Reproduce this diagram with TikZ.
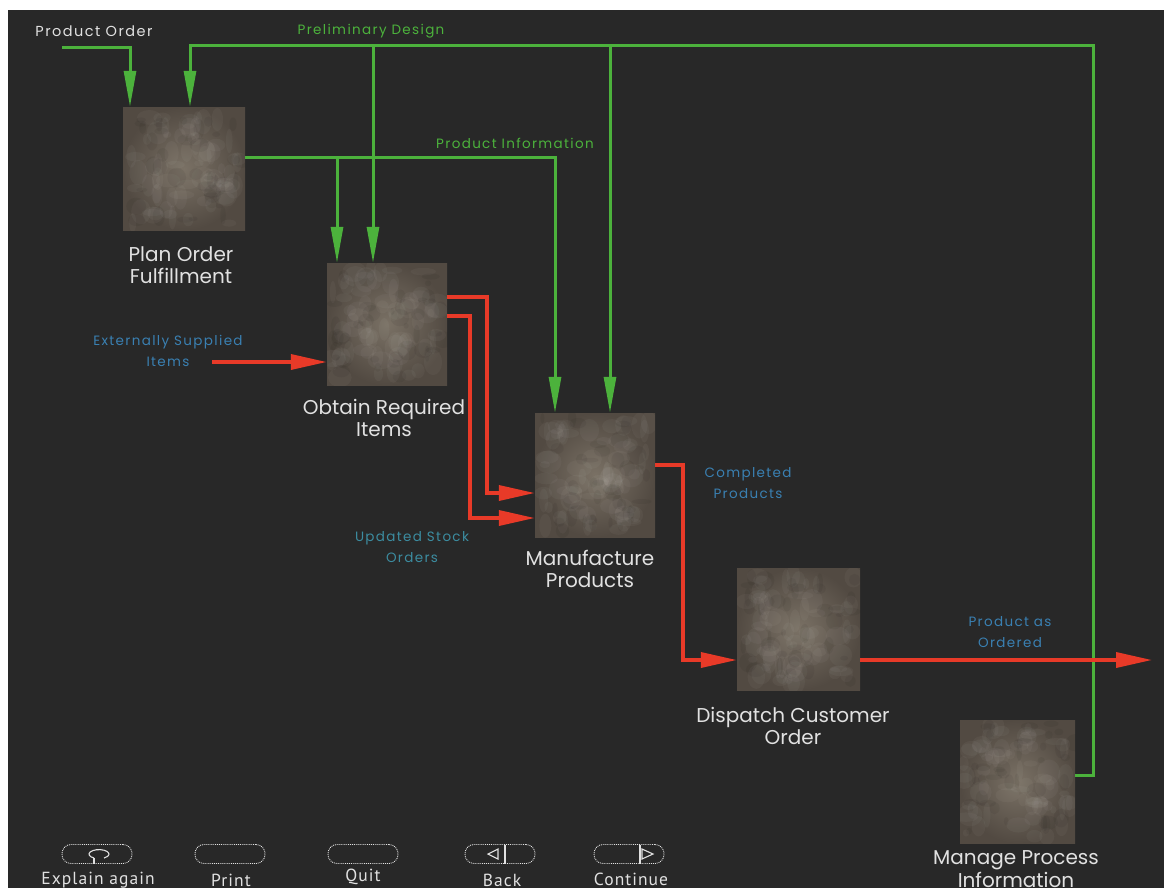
\documentclass[tikz,border=0pt]{standalone}
\usepackage{fontspec}
\setmainfont{Poppins}
\newfontfamily\spacedfont[LetterSpace=10]{Poppins}
\newfontfamily\btnfont[LetterSpace=6]{PT Sans}
\usetikzlibrary{arrows.meta,calc}
\definecolor{bgdark}{RGB}{40,40,40}
\definecolor{flowgreen}{RGB}{76,178,60}
\definecolor{flowred}{RGB}{232,58,40}
\definecolor{lblblue}{RGB}{58,128,178}
\definecolor{lblteal}{RGB}{60,140,160}
\definecolor{boxlight}{RGB}{122,113,101}
\definecolor{boxdark}{RGB}{82,74,66}
\definecolor{txtwhite}{RGB}{225,225,225}
\pgfmathsetseed{7}
\tikzset{
  procbox/.style={rectangle, inner sep=0pt, inner color=boxlight, outer color=boxdark,
    path picture={\foreach \i in {1,...,70}{
      \fill[white, opacity=0.035] ($(path picture bounding box.center)+(rand*55,rand*55)$) ellipse[x radius=3+rnd*10, y radius=3+rnd*10];}
      \foreach \i in {1,...,40}{
      \fill[black, opacity=0.05] ($(path picture bounding box.center)+(rand*58,rand*58)$) ellipse[x radius=2+rnd*8, y radius=2+rnd*8];}}},
  boxlabel/.style={text=txtwhite, font=\fontsize{20}{22.5}\selectfont, align=center, inner sep=0pt},
  flowlabel/.style={font=\spacedfont\fontsize{13.5}{21}\selectfont, align=center, inner sep=0pt},
  gline/.style={draw=flowgreen, line width=3pt},
  garrow/.style={gline, -{Triangle[length=36pt,width=12pt]}},
  rarrow/.style={draw=flowred, line width=3.5pt, -{Triangle[length=36pt,width=15pt]}},
  btn/.style={draw=txtwhite, densely dotted, line width=0.9pt, rounded corners=9pt, minimum width=70pt, minimum height=19pt, inner sep=0pt},
  btnlabel/.style={text=txtwhite, font=\btnfont\fontsize{17.5}{18}\selectfont, inner sep=0pt},
  btnicon/.style={draw=txtwhite, line width=1.1pt}
}
\begin{document}
\begin{tikzpicture}[x=1pt,y=-1pt]
\useasboundingbox (0,0) rectangle (1164,892);
\fill[white] (0,0) rectangle (1164,892);
\fill[bgdark] (8,10) rectangle (1164,888);

% process boxes
\node[procbox, minimum width=122pt, minimum height=123pt] (b1) at (184,168.5) {};
\node[procbox, minimum width=120pt, minimum height=122pt] (b2) at (387,324) {};
\node[procbox, minimum width=120pt, minimum height=124pt] (b3) at (595,475) {};
\node[procbox, minimum width=123pt, minimum height=122pt] (b4) at (798.5,629) {};
\node[procbox, minimum width=115pt, minimum height=123pt] (b5) at (1017.5,781.5) {};

% box labels
\node[boxlabel] (l1) at (181,265) {Plan Order\\Fulfillment};
\node[boxlabel] (l2) at (384,418) {Obtain Required\\Items};
\node[boxlabel] (l3) at (590,569) {Manufacture\\Products};
\node[boxlabel] (l4) at (793,726) {Dispatch Customer\\Order};
\node[boxlabel] (l5) at (1016,869) {Manage Process\\Information};

% flow labels
\node[flowlabel, text=txtwhite, font=\spacedfont\fontsize{14.5}{21}\selectfont] (tpo) at (94,31) {Product Order};
\node[flowlabel, text=flowgreen] (tpd) at (371,31) {Preliminary Design};
\node[flowlabel, text=flowgreen] (tpi) at (515,143) {Product Information};
\node[flowlabel, text=lblblue] (tes) at (168,351) {Externally Supplied\\Items};
\node[flowlabel, text=lblteal] (tus) at (412,547) {Updated Stock\\Orders};
\node[flowlabel, text=lblblue] (tcp) at (748,483) {Completed\\Products};
\node[flowlabel, text=lblblue] (tpa) at (1010,632) {Product as\\Ordered};

% coordinates
\coordinate (po) at (62,47);
\coordinate (pdc) at (1093,45);
\coordinate (pdb2) at (373,45);
\coordinate (pdb3) at (610,45);
\coordinate (pi3) at (555,157);
\coordinate (pi2) at (337,157);
\coordinate (ext) at (212,362);
\coordinate (r1) at (487,493);
\coordinate (r2) at (470,518);
\coordinate (r3) at (683,660);
\coordinate (out) at (1152,660);

% green flows
\draw[garrow] (po) -| ([xshift=-54pt]b1.north);
\draw[garrow] ([yshift=6.5pt]b5.east) -| (pdc) -| ([xshift=6pt]b1.north);
\draw[garrow] (pdb2) -- (pdb2 |- b2.north);
\draw[garrow] (pdb3) -- (pdb3 |- b3.north);
\draw[garrow] ([yshift=11.5pt]b1.east) -- (pi3) -- (pi3 |- b3.north);
\draw[garrow] (pi2) -- (pi2 |- b2.north);

% red flows
\draw[rarrow] (ext) -- (ext -| b2.west);
\draw[rarrow] ([yshift=27pt]b2.east) -| (r1) -- (r1 -| b3.west);
\draw[rarrow] ([yshift=8pt]b2.east) -| (r2) -- (r2 -| b3.west);
\draw[rarrow] ([yshift=10pt]b3.east) -| (r3) -- (r3 -| b4.west);
\draw[rarrow] ([yshift=-31pt]b4.east) -- (out);

% buttons
\node[btn] (bt1) at (97,854) {};
\node[btn] (bt2) at (230,854) {};
\node[btn] (bt3) at (363,854) {};
\node[btn] (bt4) at (500,854) {};
\node[btn] (bt5) at (629,854) {};
\node[btnlabel] (bl1) at (98,880) {Explain again};
\node[btnlabel] (bl2) at (231,880) {Print};
\node[btnlabel] (bl3) at (363,877) {Quit};
\node[btnlabel] (bl4) at (502,880) {Back};
\node[btnlabel] (bl5) at (631,879) {Continue};
% button icons
\draw[btnicon] ([xshift=-3pt,yshift=-4pt]bt1.center) arc[start angle=240, end angle=-60, x radius=10pt, y radius=4.5pt];
\draw[btnicon] ([xshift=-3pt,yshift=-4pt]bt1.center) -- ++(0,6);
\draw[btnicon] ([xshift=5pt,yshift=9.5pt]bt4.center) -- ([xshift=5pt,yshift=-9.5pt]bt4.center);
\draw[btnicon] ([xshift=-2pt,yshift=5pt]bt4.center) -- ([xshift=-2pt,yshift=-5pt]bt4.center) -- ([xshift=-12pt]bt4.center) -- cycle;
\draw[btnicon] ([xshift=11pt,yshift=9.5pt]bt5.center) -- ([xshift=11pt,yshift=-9.5pt]bt5.center);
\draw[btnicon] ([xshift=13pt,yshift=5pt]bt5.center) -- ([xshift=13pt,yshift=-5pt]bt5.center) -- ([xshift=24pt]bt5.center) -- cycle;
\end{tikzpicture}
\end{document}
